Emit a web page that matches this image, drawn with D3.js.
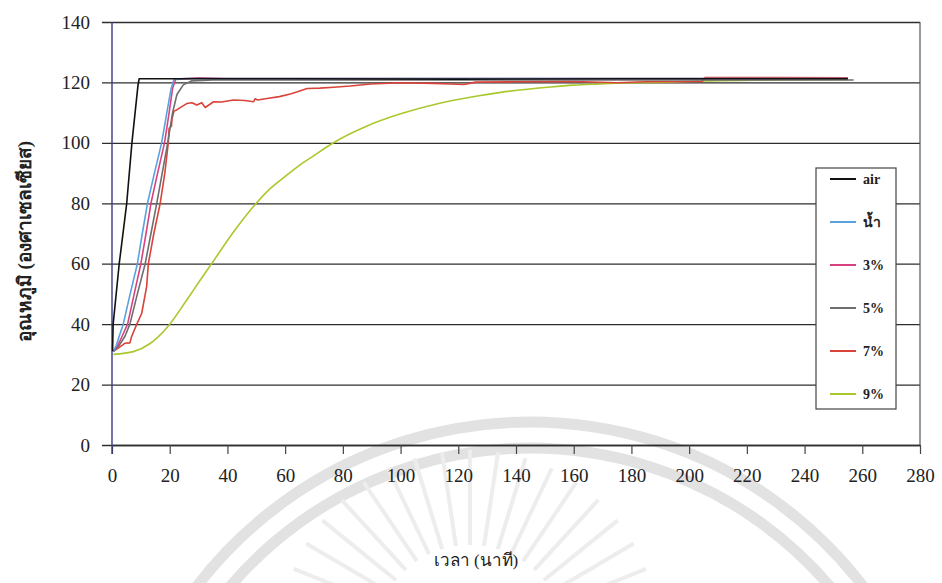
<!DOCTYPE html>
<html>
<head>
<meta charset="utf-8">
<script src="https://cdn.jsdelivr.net/npm/d3@7"></script>
<style>
    body { margin: 0; background: #fff; }
    text { font-family: "Liberation Serif", "Times New Roman", serif; }
</style>
</head>
<body>
<div id="graph"></div>
<script>
// temps (minutes) et températures (°C)
let xTicks = [0, 20, 40, 60, 80, 100, 120, 140, 160, 180, 200, 220, 240, 260, 280];
let yTicks = [0, 20, 40, 60, 80, 100, 120, 140];

let seriesNames = ["air", "น้ำ", "3%", "5%", "7%", "9%"];
let seriesColors = ["#111111", "#5aa2dc", "#d8437f", "#6e6e6e", "#d9433a", "#a9c82c"];

let airT = [0.2, 0.4, 2.5, 5.1, 6.9, 9.0, 9.4, 60, 120, 180, 255];
let airV = [31, 40, 60, 80, 100, 119, 121.2, 121.2, 121.1, 121.2, 121.2];

let waterT = [0.5, 1.5, 2.5, 3.9, 6.3, 8.8, 10.5, 12.3, 14.7, 17.2, 19.0, 20.5, 21.5, 25, 255];
let waterV = [31, 33, 36, 40, 50, 60, 70, 80, 90, 100, 110, 118, 121, 121.3, 121.3];

let p3T = [0.5, 2, 3.5, 5.4, 7.7, 10, 11.8, 13.5, 15.8, 18.2, 19.8, 21, 22, 30, 40, 255];
let p3V = [31, 33, 36, 40, 50, 60, 70, 80, 90, 100, 110, 118, 121, 121.5, 121.3, 121.3];

let p5T = [0.5, 2.5, 4.5, 6.2, 8.8, 11.5, 13.5, 15.5, 17.4, 19.3, 21, 22.5, 24.7, 27.5, 35, 257];
let p5V = [31, 33, 36, 40, 50, 60, 70, 80, 90, 100, 110, 116, 119.2, 120.5, 120.8, 120.8];

let p7T = [0.5, 2, 3.5, 4.5, 6.2, 6.8, 8.6, 10.3, 12, 12.6, 14.5, 16.7, 18.3, 19.5, 19.8, 20.6, 20.8, 21.5, 22.4,
    24.2, 25.9, 27.7, 29.4, 31.1, 32.3, 35.2, 38, 42.1, 46, 49.1, 49.6, 50.5, 53.7, 58, 61.8, 64, 67.6, 72,
    76.8, 82.6, 89.6, 100, 111.5, 117.4, 122, 126, 140, 160, 175, 185, 204.5, 205.5, 230, 255];
let p7V = [31, 32, 33, 33.7, 33.8, 35.9, 40, 43.6, 52.4, 60, 70, 80, 90, 100, 104.8, 105.5, 108, 110.5, 110.9,
    112, 113, 113.3, 112.5, 113.3, 111.7, 113.6, 113.5, 114.2, 114.0, 113.6, 114.6, 114.2, 114.7, 115.3, 116.2, 116.8, 118, 118.1,
    118.4, 118.8, 119.5, 119.9, 119.7, 119.5, 119.3, 120.1, 120.2, 120.3, 119.9, 120.2, 120.3, 121.6, 121.6, 121.5];

let p9T = [0.5, 7.4, 13.2, 19.6, 25.9, 30.6, 34.6, 42.1, 49.7, 55, 59.5, 65.3, 70, 76.3, 88.4, 100, 113.9, 126.6,
    134.7, 152, 160, 169.4, 178.7, 192.6, 205.3, 230, 255];
let p9V = [30, 30.9, 33.6, 39.5, 48, 54.6, 60.1, 70.5, 79.7, 85, 88.5, 92.8, 95.8, 99.8, 105.6, 109.6, 113.2, 115.5,
    116.7, 118.5, 119.1, 119.5, 119.9, 120.1, 120.5, 120.8, 121];

let allT = [airT, waterT, p3T, p5T, p7T, p9T];
let allV = [airV, waterV, p3V, p5V, p7V, p9V];

let series = seriesNames.map((name, i) => ({
    name: name,
    color: seriesColors[i],
    values: allT[i].map((t, j) => ({ t: t, v: allV[i][j] }))
}));

let margin = { top: 22, right: 22, bottom: 138, left: 112 };
let width = 942 - margin.left - margin.right,
    height = 583 - margin.top - margin.bottom;

let root = d3.select("#graph")
    .append("svg")
    .attr("width", 942)
    .attr("height", 583);

// filigrane (sceau) en gris clair
let wm = root.append("g").attr("fill", "none");
[420, 394].forEach(r => {
    wm.append("path")
        .attr("transform", "translate(530,842)")
        .attr("stroke", "#e2e2e2")
        .attr("stroke-width", 11)
        .attr("d", d3.arc()({ innerRadius: r, outerRadius: r, startAngle: -1.25, endAngle: 1.25 }));
});
d3.range(-68, 69, 8.5).forEach(a => {
    let rad = a * Math.PI / 180;
    wm.append("line")
        .attr("stroke", "#ededed")
        .attr("stroke-width", 4)
        .attr("x1", 470 + 95 * Math.sin(rad)).attr("y1", 640 - 95 * Math.cos(rad))
        .attr("x2", 470 + 190 * Math.sin(rad)).attr("y2", 640 - 190 * Math.cos(rad));
});

let svg = root.append("g")
    .attr("transform", "translate(" + margin.left + "," + margin.top + ")");

let x = d3.scaleLinear()
    .domain([0, 280])
    .range([0, width]);

let y = d3.scaleLinear()
    .domain([0, 140])
    .range([height, 0]);

// grille horizontale + graduations de gauche
svg.append("g")
    .attr("transform", "translate(-10,0)")
    .call(d3.axisLeft(y).tickValues(yTicks).tickSize(-(width + 10)).tickPadding(12))
    .call(g => g.select(".domain").remove())
    .call(g => g.selectAll("line").attr("stroke", "#2e2e2e").attr("stroke-width", 1.3))
    .call(g => g.selectAll("text").attr("font-size", "19px").attr("fill", "#222")
        .attr("font-family", "Liberation Serif"));

// axe x
svg.append("g")
    .attr("transform", "translate(0," + height + ")")
    .call(d3.axisBottom(x).tickValues(xTicks).tickSizeInner(9).tickSizeOuter(0).tickPadding(15))
    .call(g => g.select(".domain").attr("stroke", "#2e2e2e").attr("stroke-width", 1.3))
    .call(g => g.selectAll("line").attr("stroke", "#444").attr("stroke-width", 1.2))
    .call(g => g.selectAll("text").attr("font-size", "19px").attr("fill", "#222")
        .attr("font-family", "Liberation Serif"));

// bordure droite
svg.append("line")
    .attr("x1", x(280)).attr("x2", x(280))
    .attr("y1", y(140)).attr("y2", y(0))
    .attr("stroke", "#555")
    .attr("stroke-width", 1.2);

// axe y
svg.append("line")
    .attr("x1", x(0)).attr("x2", x(0))
    .attr("y1", y(140)).attr("y2", y(0) + 9)
    .attr("stroke", "#3a3a86")
    .attr("stroke-width", 1.4);

let line = d3.line()
    .x(d => x(d.t))
    .y(d => y(d.v));

let smooth = d3.line()
    .curve(d3.curveMonotoneX)
    .x(d => x(d.t))
    .y(d => y(d.v));

// ordre de dessin : 9% dessous, air dessus
[5, 4, 3, 2, 1, 0].forEach(i => {
    let s = series[i];
    svg.append("path")
        .datum(s.values)
        .attr("fill", "none")
        .attr("stroke", s.color)
        .attr("stroke-width", 1.6)
        .attr("stroke-linejoin", "round")
        .attr("d", s.name == "9%" ? smooth : line);
});

// légende
let legend = root.append("g")
    .attr("transform", "translate(816,168)");

legend.append("rect")
    .attr("width", 80)
    .attr("height", 241)
    .attr("fill", "#fff")
    .attr("stroke", "#444")
    .attr("stroke-width", 1.2);

series.forEach((s, i) => {
    let g = legend.append("g")
        .attr("transform", "translate(0," + (11 + i * 43) + ")");
    g.append("line")
        .attr("x1", 14).attr("x2", 40)
        .attr("stroke", s.color)
        .attr("stroke-width", 2);
    g.append("text")
        .attr("x", 47)
        .attr("dy", "0.35em")
        .attr("font-size", "14px")
        .attr("font-weight", "bold")
        .attr("fill", "#222")
        .text(s.name);
});

// titres des axes
root.append("text")
    .attr("transform", "translate(31," + (margin.top + height / 2 + 8) + ") rotate(-90)")
    .attr("text-anchor", "middle")
    .attr("font-size", "19px")
    .attr("font-weight", "bold")
    .attr("fill", "#222")
    .text("อุณหภูมิ (องศาเซลเซียส)");

root.append("text")
    .attr("x", 476)
    .attr("y", 566)
    .attr("text-anchor", "middle")
    .attr("font-size", "17px")
    .attr("fill", "#222")
    .text("เวลา (นาที)");
</script>
</body>
</html>
